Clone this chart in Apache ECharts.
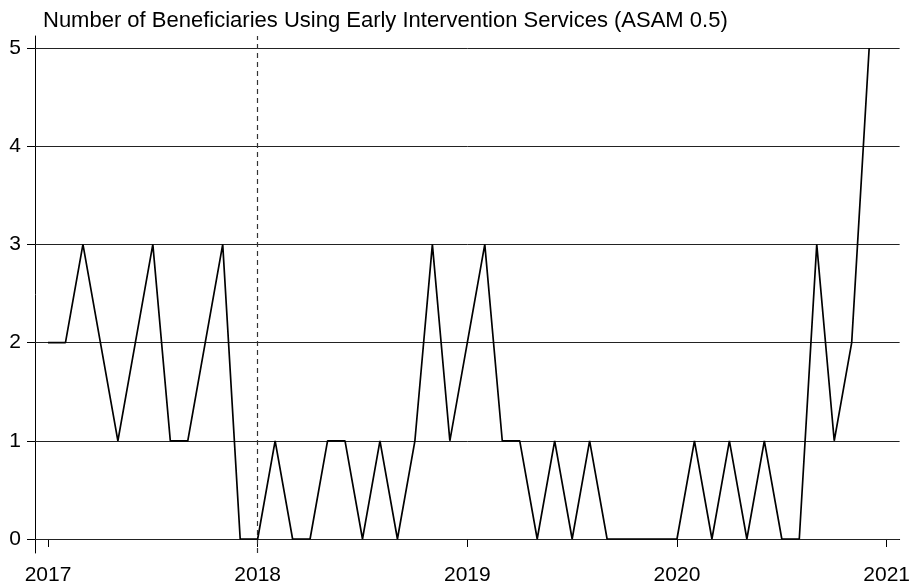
<!DOCTYPE html>
<html>
<head>
<meta charset="utf-8">
<script src="https://cdn.jsdelivr.net/npm/echarts@6/dist/echarts.min.js"></script>
<style>html,body{margin:0;padding:0;background:#fff}#c{width:913px;height:588px}</style>
</head>
<body>
<div id="c"></div>
<script>
const titleText = "Number of Beneficiaries Using Early Intervention Services (ASAM 0.5)";
const startYear = 2017;
const values2017 = [2, 2, 3, 2, 1, 2, 3, 1, 1, 2, 3, 0];
const values2018 = [0, 1, 0, 0, 1, 1, 0, 1, 0, 1, 3, 1];
const values2019 = [2, 3, 1, 1, 0, 1, 0, 1, 0, 0, 0, 0];
const values2020 = [0, 1, 0, 1, 0, 1, 0, 0, 3, 1, 2, 5];
const xTicks = [2017, 2018, 2019, 2020, 2021];
const yTicks = [0, 1, 2, 3, 4, 5];
const markerYear = 2018;

const allValues = [].concat(values2017, values2018, values2019, values2020);
const seriesData = allValues.map((v, i) => [startYear + i / 12, v]);

const font = "'Liberation Sans', Arial, Helvetica, sans-serif";
const chart = echarts.init(document.getElementById('c'), null, {renderer: 'canvas'});
chart.setOption({
  animation: false,
  backgroundColor: '#fff',
  title: {
    text: titleText, left: 38, top: 5,
    textStyle: {fontFamily: font, fontSize: 22, fontWeight: 'normal', color: '#000'}
  },
  grid: {left: 35, right: 10, top: 36, bottom: 35, containLabel: false},
  xAxis: {
    type: 'value',
    min: 2016.938, max: 2021.062,
    splitLine: {show: false},
    axisLine: {show: true, lineStyle: {color: '#000', width: 1}},
    axisTick: {show: true, customValues: xTicks, length: 8, lineStyle: {color: '#000', width: 1}},
    axisLabel: {customValues: xTicks, margin: 12, fontFamily: font, fontSize: 21, color: '#000',
      formatter: v => String(Math.round(v))}
  },
  yAxis: {
    type: 'value',
    min: -0.1426, max: 5.122,
    splitLine: {show: false},
    axisLine: {show: true, lineStyle: {color: '#000', width: 1}},
    axisTick: {show: true, customValues: yTicks, length: 8, lineStyle: {color: '#000', width: 1}},
    axisLabel: {customValues: yTicks, margin: 14, fontFamily: font, fontSize: 21, color: '#000',
      formatter: v => String(Math.round(v))}
  },
  series: [{
    type: 'line',
    data: seriesData,
    showSymbol: false,
    lineStyle: {color: '#000', width: 1.7},
    z: 5,
    markLine: {
      silent: true, symbol: 'none', label: {show: false},
      data: yTicks.map(t => ({yAxis: t, lineStyle: {type: 'solid', color: '#222', width: 1}}))
        .concat([{xAxis: markerYear, lineStyle: {type: [5, 4], color: '#333', width: 1.2}}])
    }
  }]
});
</script>
</body>
</html>
